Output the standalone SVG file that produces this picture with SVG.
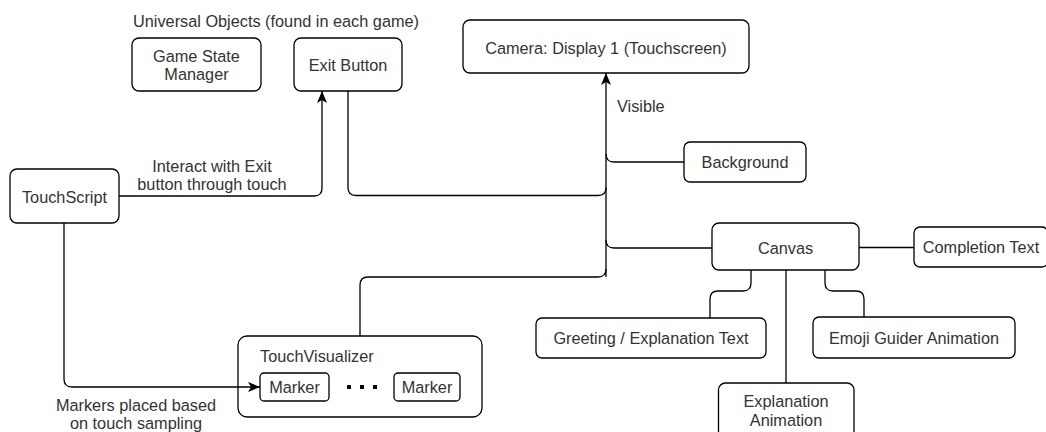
<svg xmlns="http://www.w3.org/2000/svg" width="1046" height="432" viewBox="0 0 1046 432">
  <defs>
    <marker id="arrow" viewBox="0 0 12 10" refX="12" refY="5" markerWidth="12" markerHeight="10" markerUnits="userSpaceOnUse" orient="auto">
      <path d="M0,0 L12,5 L0,10 L3,5 Z" fill="#000"/>
    </marker>
    <style>
      .box { fill: #fff; stroke: #000; stroke-width: 1.3; }
      .edge { fill: none; stroke: #000; stroke-width: 1.3; }
      text { font-family: "Liberation Sans", Arial, sans-serif; font-size: 16.3px; fill: #333; }
      .c { text-anchor: middle; }
    </style>
  </defs>
  <rect width="1046" height="432" fill="#fff"/>

  <text id="universal-title" class="c" x="276" y="27.3">Universal Objects (found in each game)</text>

  <g id="game-state-manager">
    <rect class="box" x="132" y="38" width="129" height="53" rx="7"/>
    <text class="c" x="196.5" y="61.5">Game State</text>
    <text class="c" x="196.5" y="79.5">Manager</text>
  </g>

  <g id="exit-button">
    <rect class="box" x="294" y="38" width="108" height="53" rx="7"/>
    <text class="c" x="348" y="71.2">Exit Button</text>
  </g>

  <g id="camera">
    <rect class="box" x="463" y="20" width="286" height="53" rx="7"/>
    <text class="c" x="606" y="53.8">Camera: Display 1 (Touchscreen)</text>
  </g>

  <g id="background">
    <rect class="box" x="684" y="142" width="122" height="40" rx="6"/>
    <text class="c" x="745" y="167.8">Background</text>
  </g>

  <g id="touchscript">
    <rect class="box" x="10" y="169" width="109" height="54" rx="7"/>
    <text class="c" x="64.5" y="202.8">TouchScript</text>
  </g>

  <g id="canvas">
    <rect class="box" x="712" y="223" width="147" height="47" rx="7"/>
    <text class="c" x="785.5" y="253.8">Canvas</text>
  </g>

  <g id="completion-text">
    <rect class="box" x="914" y="227" width="134" height="40" rx="6"/>
    <text class="c" x="981" y="252.8">Completion Text</text>
  </g>

  <g id="greeting-text">
    <rect class="box" x="536" y="318" width="230" height="40" rx="6"/>
    <text class="c" x="651" y="343.8">Greeting / Explanation Text</text>
  </g>

  <g id="emoji-guider">
    <rect class="box" x="813" y="317" width="202" height="41" rx="6"/>
    <text class="c" x="914" y="343.8">Emoji Guider Animation</text>
  </g>

  <g id="explanation-animation">
    <rect class="box" x="718.5" y="383" width="135.5" height="60" rx="7"/>
    <text class="c" x="786" y="407.3">Explanation</text>
    <text class="c" x="786" y="425.5">Animation</text>
  </g>

  <g id="touch-visualizer">
    <rect class="box" x="238" y="336" width="244" height="81" rx="9"/>
    <text x="260" y="362.3">TouchVisualizer</text>
    <g id="marker-first">
      <rect class="box" x="260" y="373" width="69" height="28" rx="4"/>
      <text class="c" x="294.5" y="392.5">Marker</text>
    </g>
    <g id="ellipsis" fill="#000">
      <rect x="347" y="385" width="4" height="4"/>
      <rect x="360" y="385" width="4" height="4"/>
      <rect x="373" y="385" width="4" height="4"/>
    </g>
    <g id="marker-last">
      <rect class="box" x="394" y="373" width="66" height="28" rx="4"/>
      <text class="c" x="427" y="392.5">Marker</text>
    </g>
  </g>

  <!-- connectors, drawn over the nodes so arrows inside containers stay visible -->
  <g id="connectors">
    <!-- shared trunk into the camera -->
    <path class="edge" d="M606,277 V73" marker-end="url(#arrow)"/>
    <path class="edge" d="M348,91 V187.5 Q348,195.5 356,195.5 H598 Q606,195.5 606,187.5"/>
    <path class="edge" d="M684,162 H614 Q606,162 606,154"/>
    <path class="edge" d="M712,248 H614 Q606,248 606,240"/>
    <path class="edge" d="M360,336 V285 Q360,277 368,277 H598 Q606,277 606,269"/>
    <!-- touch input -->
    <path class="edge" d="M119,196 H314 Q322,196 322,188 V91" marker-end="url(#arrow)"/>
    <path class="edge" d="M64,223 V379 Q64,387 72,387 H260" marker-end="url(#arrow)"/>
    <!-- canvas children -->
    <path class="edge" d="M859,247.5 H914"/>
    <path class="edge" d="M751,270 V283 Q751,291 743,291 H718 Q710,291 710,299 V318"/>
    <path class="edge" d="M825,270 V283 Q825,291 833,291 H856 Q864,291 864,299 V317"/>
    <path class="edge" d="M786,270 V383"/>
    <!-- edge labels -->
    <text class="c" x="212" y="171.5">Interact with Exit</text>
    <text class="c" x="212" y="189.8">button through touch</text>
    <text x="617" y="112.3">Visible</text>
    <text class="c" x="136" y="410.5">Markers placed based</text>
    <text class="c" x="136" y="428.5">on touch sampling</text>
  </g>
</svg>
